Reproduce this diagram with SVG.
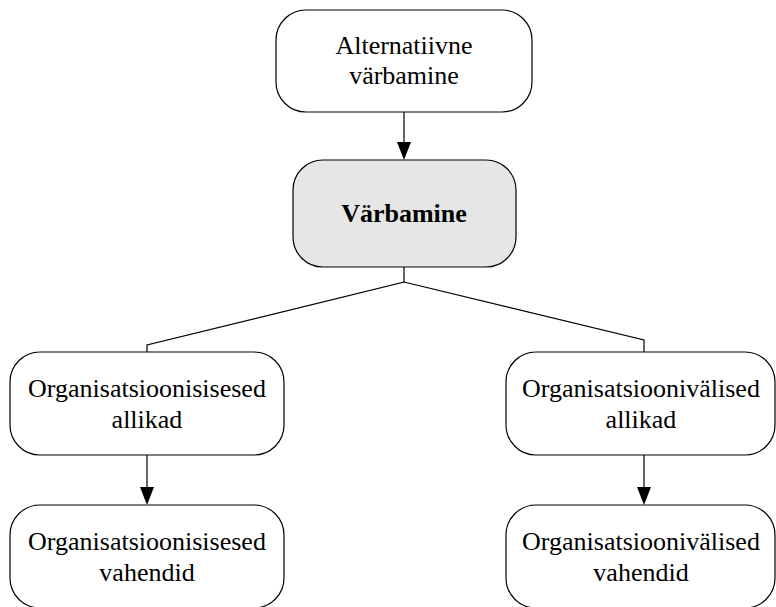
<svg xmlns="http://www.w3.org/2000/svg" width="776" height="607" viewBox="0 0 776 607">
  <defs>
    <style>
      .box { fill: #fff; stroke: #000; stroke-width: 1.2; }
      .box.main { fill: #e6e6e6; }
      .lbl { font-family: "Liberation Serif", "Times New Roman", serif; font-size: 26px; fill: #000; text-anchor: middle; }
      .bold { font-weight: bold; }
      .conn { fill: none; stroke: #000; stroke-width: 1.2; }
      .head { fill: #000; }
    </style>
  </defs>
  <rect width="776" height="607" fill="#fff"/>

  <g id="connectors">
    <path class="conn" d="M404,112 L404,142"/>
    <path class="head" d="M397,142 L411,142 L404,160 Z"/>
    <path class="conn" d="M404,267 L404,282 L147,345 L147,352"/>
    <path class="conn" d="M404,282 L644,340 L644,352"/>
    <path class="conn" d="M147,455 L147,487"/>
    <path class="head" d="M140,487 L154,487 L147,505 Z"/>
    <path class="conn" d="M644,455 L644,487"/>
    <path class="head" d="M637,487 L651,487 L644,505 Z"/>
  </g>

  <g id="node-alternatiivne">
    <rect class="box" x="276" y="10" width="256" height="102" rx="30"/>
    <text class="lbl" x="404" y="54">Alternatiivne</text>
    <text class="lbl" x="404" y="84">värbamine</text>
  </g>

  <g id="node-varbamine">
    <rect class="box main" x="293" y="160" width="223" height="107" rx="30"/>
    <text class="lbl bold" x="404" y="222">Värbamine</text>
  </g>

  <g id="node-sisesed-allikad">
    <rect class="box" x="10" y="352" width="274" height="103" rx="30"/>
    <text class="lbl" x="147" y="397">Organisatsioonisisesed</text>
    <text class="lbl" x="147" y="428">allikad</text>
  </g>

  <g id="node-valised-allikad">
    <rect class="box" x="506" y="352" width="269" height="103" rx="30"/>
    <text class="lbl" x="641" y="397">Organisatsioonivälised</text>
    <text class="lbl" x="641" y="428">allikad</text>
  </g>

  <g id="node-sisesed-vahendid">
    <rect class="box" x="10" y="505" width="274" height="103" rx="30"/>
    <text class="lbl" x="147" y="550">Organisatsioonisisesed</text>
    <text class="lbl" x="147" y="581">vahendid</text>
  </g>

  <g id="node-valised-vahendid">
    <rect class="box" x="506" y="505" width="269" height="103" rx="30"/>
    <text class="lbl" x="641" y="550">Organisatsioonivälised</text>
    <text class="lbl" x="641" y="581">vahendid</text>
  </g>
</svg>
